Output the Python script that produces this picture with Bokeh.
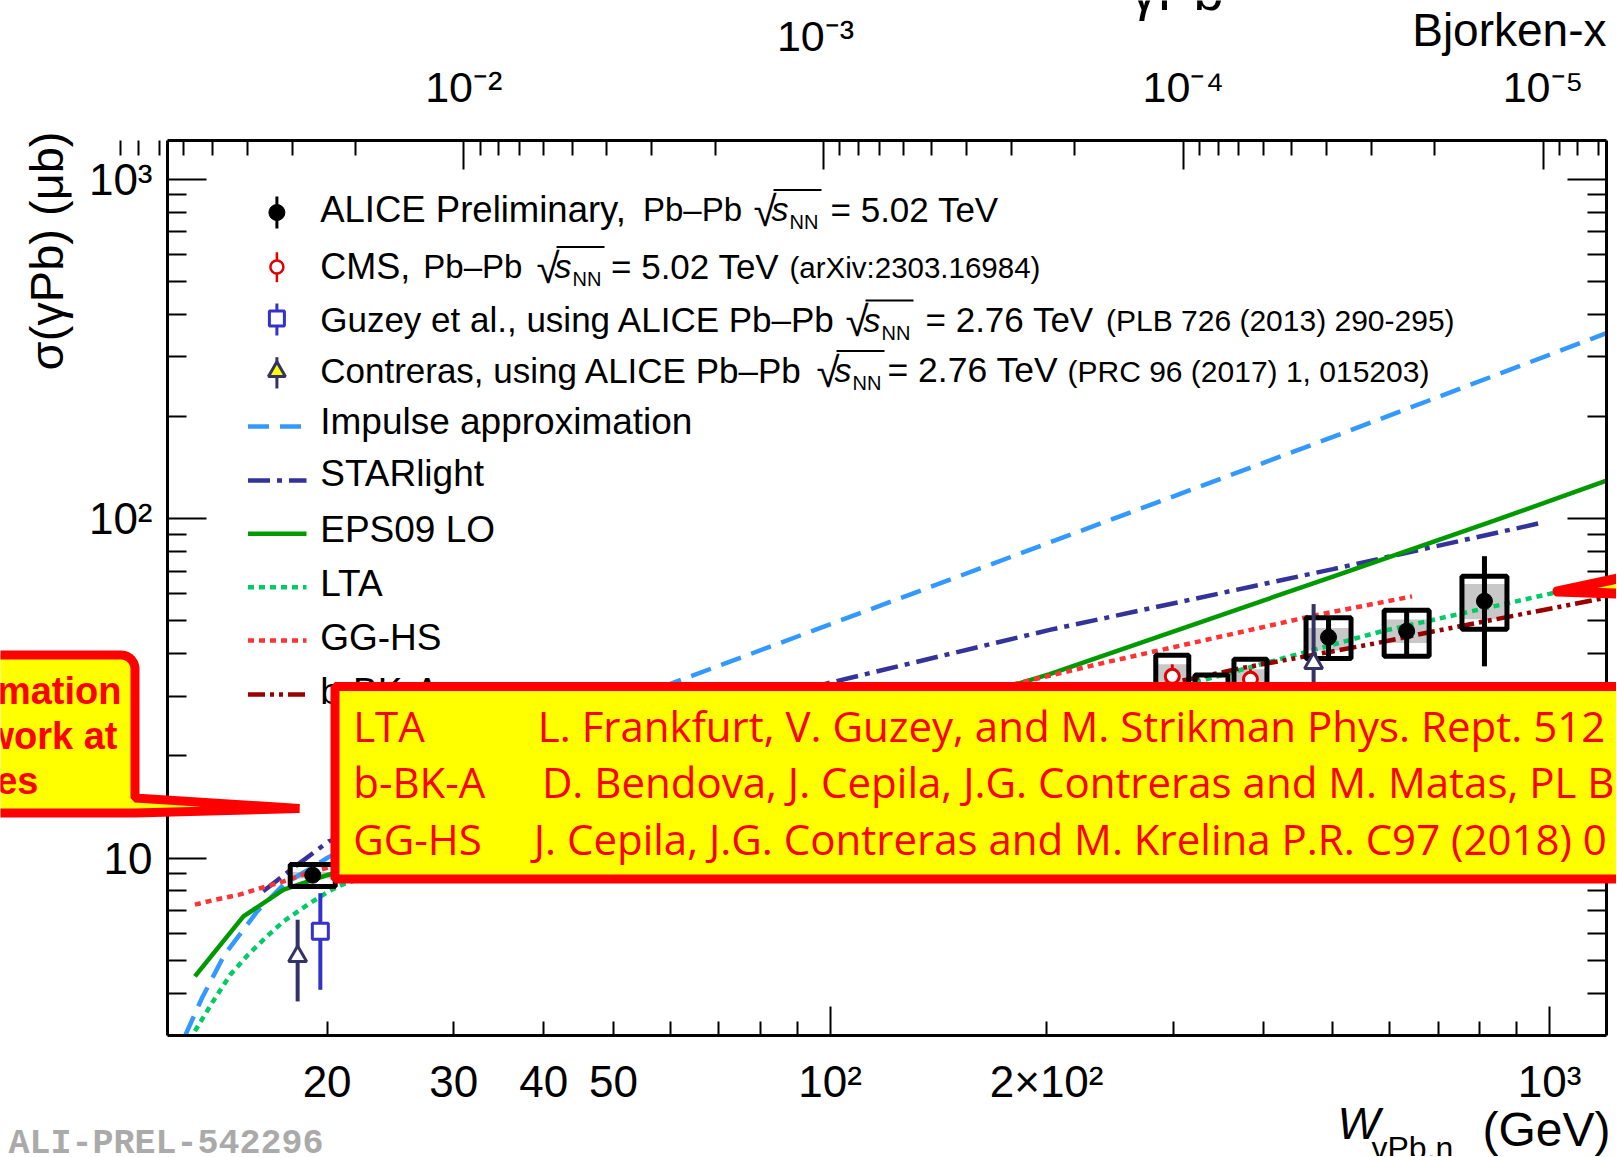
import json
import math
from bokeh.plotting import figure
from bokeh.models import (LogAxis, FixedTicker, CustomJSTickFormatter, Range1d,
                          LogScale, Label, PolyAnnotation, ColumnDataSource)
from bokeh.core.properties import value
from bokeh.embed import file_html
from bokeh.resources import INLINE

# ------------------------------------------------------------------ data
W_MIN, W_MAX = 12.0, 1200.0
SIG_MIN, SIG_MAX = 3.0, 1300.0
M_JPSI = 3.0969  # GeV ; Bjorken-x = (M/W)^2

x_major_ticks = [100, 1000]
x_minor_ticks = [20, 30, 40, 50, 60, 70, 80, 90, 200, 300, 400, 500, 600, 700, 800, 900]
x_label_ticks = [20, 30, 40, 50, 100, 200, 1000]
x_labels = {"20": "20", "30": "30", "40": "40", "50": "50",
            "100": "10²", "200": "2×10²", "1000": "10³"}

y_major_ticks = [10, 100, 1000]
y_minor_ticks = [4, 5, 6, 7, 8, 9, 20, 30, 40, 50, 60, 70, 80, 90,
                 200, 300, 400, 500, 600, 700, 800, 900]
y_labels = {"10": "10", "100": "10²", "1000": "10³"}

bj_major_ticks = [1e-2, 1e-3, 1e-4, 1e-5]
bj_minor_ticks = [k * 10.0 ** e for e in range(-6, -1) for k in range(2, 10)]
bj_labels = {"-2": "10⁻²", "-4": "10⁻⁴", "-5": "10⁻⁵"}
bj_stagger_label = "10⁻³"

# ALICE preliminary (Pb-Pb 5.02 TeV)
alice_W = [19.1, 493, 633, 812]
alice_sig = [8.9, 44.7, 46.6, 57.1]
alice_stat_lo = [8.5, 38.7, 39.3, 36.7]
alice_stat_hi = [9.3, 51.0, 53.7, 77.5]
alice_syst_lo = [8.24, 38.7, 39.3, 47.2]
alice_syst_hi = [9.57, 51.0, 53.7, 67.6]
alice_unc_lo = [8.7, 40.9, 43.0, 50.5]
alice_unc_hi = [9.1, 47.6, 50.4, 64.2]

# CMS
cms_W = [299, 339, 384]
cms_sig = [34.3, 30.1, 33.6]
cms_syst_lo = [29.7, 26.2, 29.3]
cms_syst_hi = [39.6, 34.6, 38.5]
cms_unc_lo = [31.6, 27.8, 31.4]
cms_unc_hi = [37.2, 32.6, 36.0]

# Guzey et al. (ALICE 2.76 TeV)
guzey_W = [19.57]
guzey_sig = [6.08]
guzey_lo = [4.09]
guzey_hi = [7.88]

# Contreras (ALICE 2.76 TeV)
contr_W = [18.2, 470]
contr_sig = [5.13, 37.5]
contr_lo = [3.78, 24.0]
contr_hi = [6.58, 56.0]

# model curves
ia_W = [12.7, 13.4, 14.4, 16.0, 17.4, 20, 30, 40, 60, 100, 200, 500, 1200]
ia_sig = [3.0, 3.87, 5.19, 6.97, 8.35, 10.0, 16.0, 21.5, 32.6, 48.8, 84.4, 174, 352]

star_W = [16.3, 18, 20.1, 30, 50, 98.5, 202, 500, 977]
star_sig = [7.98, 9.4, 11.2, 14.6, 20.6, 32.6, 47.0, 71.0, 97.3]

eps_W = [13.1, 15.3, 17.4, 20.1, 30, 50, 100, 202, 500, 838, 1200]
eps_sig = [4.48, 6.73, 8.07, 8.93, 11.1, 14.7, 22.3, 34.8, 67.5, 98.6, 129.3]

lta_W = [13.1, 13.88, 14.67, 15.53, 16.5, 17.4, 18.8, 20.1, 21.0, 30, 50, 100, 200, 323, 583, 1000, 1200]
lta_sig = [3.09, 3.78, 4.53, 5.19, 5.88, 6.51, 7.29, 7.98, 8.35, 10.9, 14.6, 20.0, 26.5, 33.0, 46.5, 60.0, 66.0]

gghs_W = [13.1, 14.0, 15.1, 16.2, 17.4, 18.8, 30, 50, 100, 181, 237.6, 475, 644]
gghs_sig = [7.29, 7.54, 7.80, 8.16, 8.54, 9.03, 11.8, 15.8, 23.4, 32.6, 37.4, 52.0, 59.0]

bbka_W = [25, 50, 100, 200, 324, 371.5, 450, 576, 689, 1200]
bbka_sig = [12.0, 16.0, 21.1, 27.9, 34.0, 36.2, 39.0, 43.0, 46.5, 58.5]

legend_texts = ["ALICE Preliminary,", "CMS,", "Guzey et al., using ALICE Pb–Pb",
                "Contreras, using ALICE Pb–Pb", "Impulse approximation", "STARlight",
                "EPS09 LO", "LTA", "GG-HS", "b-BK-A"]
refs_col1 = ["LTA", "b-BK-A", "GG-HS"]
refs_col2 = ["L. Frankfurt, V. Guzey, and M. Strikman Phys. Rept. 512 (",
             "D. Bendova, J. Cepila, J.G. Contreras and M. Matas, PL B",
             "J. Cepila, J.G. Contreras and M. Krelina P.R. C97 (2018) 0"]
callout_lines = ["mation", "work at", "es"]

# ------------------------------------------------------------------ layout helpers
FONT = "Liberation Sans"
CW, CH = 1616, 1156                          # canvas
FL, FT, FW, FH = 167.0, 140.0, 1439.0, 895.0  # ROOT frame box in canvas pixels


def wx(px):
    return W_MIN * (W_MAX / W_MIN) ** ((px - FL) / FW)


def sy(py):
    return SIG_MAX * (SIG_MIN / SIG_MAX) ** ((py - FT) / FH)


p = figure(x_axis_type="log", y_axis_type="log",
           x_range=Range1d(wx(0), wx(CW)), y_range=Range1d(sy(CH), sy(0)),
           frame_width=CW, frame_height=CH, min_border=0,
           x_axis_location=None, y_axis_location=None,
           output_backend="svg", toolbar_location=None)
p.xgrid.visible = False
p.ygrid.visible = False
p.outline_line_color = None
p.background_fill_color = "white"
p.border_fill_color = "white"


def fmt_map(m):
    return CustomJSTickFormatter(code="const m = %s; const v = m[String(tick)]; return v === undefined ? '' : v;"
                                 % json.dumps(m, ensure_ascii=False))


def fmt_exp(m):
    return CustomJSTickFormatter(code="const m = %s; const e = String(Math.round(Math.log10(tick))); const v = m[e]; return v === undefined ? '' : v;"
                                 % json.dumps(m, ensure_ascii=False))


def style_axis(ax, tin, tmin, font_size, standoff, line=True):
    ax.axis_line_width = 3
    ax.axis_line_color = "black" if line else None
    ax.major_tick_line_width = 2
    ax.minor_tick_line_width = 2
    ax.major_tick_in = tin
    ax.major_tick_out = 0
    ax.minor_tick_in = tmin
    ax.minor_tick_out = 0
    if tin == 0:
        ax.major_tick_line_color = None
    ax.major_label_text_font = FONT
    ax.major_label_text_font_size = font_size
    ax.major_label_standoff = standoff
    ax.major_label_text_color = "black"


# bottom: long/short ticks + labels
xa = LogAxis(fixed_location=SIG_MIN, bounds=(W_MIN, W_MAX),
             ticker=FixedTicker(ticks=x_major_ticks, minor_ticks=x_minor_ticks), formatter=fmt_map({}))
style_axis(xa, 29, 14, "0px", 0)
p.add_layout(xa, "below")
xl = LogAxis(fixed_location=SIG_MIN, bounds=(W_MIN, W_MAX),
             ticker=FixedTicker(ticks=x_label_ticks, minor_ticks=[]), formatter=fmt_map(x_labels))
style_axis(xl, 0, 0, "44px", 21, line=False)
p.add_layout(xl, "below")

# left / right
ya = LogAxis(fixed_location=W_MIN, bounds=(SIG_MIN, SIG_MAX),
             ticker=FixedTicker(ticks=y_major_ticks, minor_ticks=y_minor_ticks), formatter=fmt_map(y_labels))
style_axis(ya, 39, 19, "44px", 15)
p.add_layout(ya, "left")
ra = LogAxis(fixed_location=W_MAX, bounds=(SIG_MIN, SIG_MAX),
             ticker=FixedTicker(ticks=y_major_ticks, minor_ticks=y_minor_ticks), formatter=fmt_map({}))
style_axis(ra, 39, 19, "0px", 0)
p.add_layout(ra, "right")

# top: Bjorken-x
M2 = M_JPSI ** 2
p.extra_x_ranges = {"bj": Range1d(start=M2 / wx(0) ** 2, end=M2 / wx(CW) ** 2)}
p.extra_x_scales = {"bj": LogScale()}
BJ_BOUNDS = (M2 / W_MAX ** 2, M2 / W_MIN ** 2)
ta = LogAxis(x_range_name="bj", fixed_location=SIG_MAX, bounds=BJ_BOUNDS,
             ticker=FixedTicker(ticks=bj_major_ticks, minor_ticks=bj_minor_ticks), formatter=fmt_exp(bj_labels))
style_axis(ta, 29, 15, "43px", 30)
p.add_layout(ta, "above")
# staggered label of the 10^-3 decade, drawn by a second (tick-less) axis a little left of its tick
ta2 = LogAxis(x_range_name="bj", fixed_location=SIG_MAX, bounds=BJ_BOUNDS,
              ticker=FixedTicker(ticks=[M2 / wx(815) ** 2], minor_ticks=[]),
              formatter=CustomJSTickFormatter(code="return %s;" % json.dumps(bj_stagger_label, ensure_ascii=False)))
style_axis(ta2, 0, 0, "43px", 81, line=False)
p.add_layout(ta2, "above")

# ------------------------------------------------------------------ data glyphs
FA = 10 ** (22.5 / 719.5)   # ALICE box half-width (log)
FC = 10 ** (16.5 / 719.5)   # CMS box half-width (log)

p.quad(left=[w / FA for w in alice_W], right=[w * FA for w in alice_W],
       bottom=alice_unc_lo, top=alice_unc_hi, fill_color="#c8c8c8", line_color=None)
p.quad(left=[w / FC for w in cms_W], right=[w * FC for w in cms_W],
       bottom=cms_unc_lo, top=cms_unc_hi, fill_color="#c8c8c8", line_color=None)

LW = 4.5
p.line(ia_W, ia_sig, line_color="#3399FF", line_width=LW, line_dash="21 11")
p.line(star_W, star_sig, line_color="#333399", line_width=LW, line_dash="22 7 5 7")
p.line(eps_W, eps_sig, line_color="#009900", line_width=LW)
p.line(lta_W, lta_sig, line_color="#00CC66", line_width=LW, line_dash="6 5")
p.line(gghs_W, gghs_sig, line_color="#FF3333", line_width=LW, line_dash="6 5")
p.line(bbka_W, bbka_sig, line_color="#990000", line_width=LW, line_dash="17 5 4 5 4 5")

p.quad(left=[w / FA for w in alice_W], right=[w * FA for w in alice_W],
       bottom=alice_syst_lo, top=alice_syst_hi, fill_color=None, line_color="black", line_width=5)
p.quad(left=[w / FC for w in cms_W], right=[w * FC for w in cms_W],
       bottom=cms_syst_lo, top=cms_syst_hi, fill_color=None, line_color="black", line_width=5)

p.segment(alice_W, alice_stat_lo, alice_W, alice_stat_hi, line_color="black", line_width=5)
p.scatter(alice_W, alice_sig, marker="circle", size=16, fill_color="black", line_color="black")
p.segment(cms_W, cms_unc_lo, cms_W, cms_unc_hi, line_color="#E00000", line_width=3)
p.scatter(cms_W, cms_sig, marker="circle", size=14, fill_color="white", line_color="#E00000", line_width=3)
p.segment(guzey_W, guzey_lo, guzey_W, guzey_hi, line_color="#3333CC", line_width=4)
p.scatter(guzey_W, guzey_sig, marker="square", size=16, fill_color="white", line_color="#3333CC", line_width=3)
p.segment(contr_W, contr_lo, contr_W, contr_hi, line_color="#333366", line_width=4)
p.scatter(contr_W, contr_sig, marker="triangle", size=18, fill_color="white", line_color="#333366", line_width=3)

# ------------------------------------------------------------------ legend
LX0, LX1, MX = 247.5, 306.0, 276.4
for ypx, col, dash in [(426, "#3399FF", "21 11"), (480, "#333399", "22 7 5 7"),
                       (533.3, "#009900", "solid"), (586.7, "#00CC66", "6 5"),
                       (640, "#FF3333", "6 5"), (694, "#990000", "17 5 4 5 4 5")]:
    p.line([wx(LX0), wx(LX1)], [sy(ypx), sy(ypx)], line_color=col, line_width=LW, line_dash=dash)

p.segment([wx(MX)], [sy(196)], [wx(MX)], [sy(228)], line_color="black", line_width=3)
p.scatter([wx(MX)], [sy(212)], marker="circle", size=16, fill_color="black", line_color="black")
p.segment([wx(MX)], [sy(251.7)], [wx(MX)], [sy(281.7)], line_color="#E00000", line_width=2.5)
p.scatter([wx(MX)], [sy(266.5)], marker="circle", size=13, fill_color="white", line_color="#E00000", line_width=2.5)
p.segment([wx(MX)], [sy(303)], [wx(MX)], [sy(335)], line_color="#3333CC", line_width=3)
p.scatter([wx(MX)], [sy(318)], marker="square", size=15, fill_color="white", line_color="#3333CC", line_width=3)
p.segment([wx(MX)], [sy(356.7)], [wx(MX)], [sy(388)], line_color="#333366", line_width=3)
p.scatter([wx(MX)], [sy(371)], marker="triangle", size=17, fill_color="#FFFF00", line_color="#333366", line_width=3)

TX = 319.7
rows_y = [208.5, 265.5, 319, 369.5, 421, 472.5, 529, 583, 636.7, 690.5]
normal = [
    (TX, rows_y[0], legend_texts[0], 36.5), (642.5, rows_y[0], "Pb–Pb", 33), (830, rows_y[0], "= 5.02 TeV", 35),
    (TX, rows_y[1], legend_texts[1], 36), (422.8, rows_y[1], "Pb–Pb", 33), (610.5, rows_y[1], "= 5.02 TeV", 35),
    (789, rows_y[1] + 1, "(arXiv:2303.16984)", 29.5),
    (TX, rows_y[2], legend_texts[2], 35), (925, rows_y[2], "= 2.76 TeV", 35),
    (1105.5, rows_y[2] + 1, "(PLB 726 (2013) 290-295)", 30),
    (TX, rows_y[3], legend_texts[3], 35), (887, rows_y[3], "= 2.76 TeV", 35.5),
    (1067, rows_y[3] + 1, "(PRC 96 (2017) 1, 015203)", 30),
]
for i in range(4, 10):
    normal.append((TX, rows_y[i], legend_texts[i], 37))

sqrt_pos = [(753, rows_y[0]), (536, rows_y[1]), (845, rows_y[2]), (816, rows_y[3])]
italic, subs = [], []
over_x0, over_x1, over_y = [], [], []
for sx, ry in sqrt_pos:
    normal.append((sx, ry + 2, "√", 42))
    italic.append((sx + 18, ry, "s", 34))
    subs.append((sx + 36, ry + 13, "NN", 20))
    over_x0.append(wx(sx + 20))
    over_x1.append(wx(sx + 68))
    over_y.append(sy(ry - 19))


def add_texts(items, style="normal"):
    src = ColumnDataSource(dict(x=[wx(a[0]) for a in items], y=[sy(a[1]) for a in items],
                                text=[a[2] for a in items], size=["%gpx" % a[3] for a in items]))
    p.text(x="x", y="y", text="text", source=src, text_font=value(FONT), text_font_size="size",
           text_font_style=style, text_color="black", text_baseline="middle", text_align="left")


add_texts(normal)
add_texts(italic, "italic")
add_texts(subs)
p.segment(over_x0, over_y, over_x1, over_y, line_color="black", line_width=2)

# ------------------------------------------------------------------ callouts
bx = [334.5, 1650, 1650, 334.5]
by = [686, 686, 878.5, 878.5]
p.add_layout(PolyAnnotation(xs=[wx(v) for v in bx], ys=[sy(v) for v in by],
                            fill_color="#FFFF00", fill_alpha=1, line_color="#FF0000",
                            line_alpha=1, line_width=9))
for txt, ypx in zip(refs_col1, [725, 781, 838]):
    p.add_layout(Label(x=wx(352.7), y=sy(ypx), text=txt, text_font="Open Sans", text_font_size="42px",
                       text_color="#FF0000", text_baseline="middle", text_align="left"))
for txt, xpx, ypx in zip(refs_col2, [537.3, 541.4, 533.2], [725, 781, 838]):
    p.add_layout(Label(x=wx(xpx), y=sy(ypx), text=txt, text_font="Open Sans", text_font_size="42px",
                       text_color="#FF0000", text_baseline="middle", text_align="left"))

cx, cy = [-60], [654.5]
for k in range(10):
    th = math.pi / 2 - k * (math.pi / 2) / 9
    cx.append(120.5 + 14 * math.cos(th))
    cy.append(668.5 - 14 * math.sin(th))
cx += [134.5, 299, 134.5, -60]
cy += [797.5, 808, 812.5, 812.5]
p.add_layout(PolyAnnotation(xs=[wx(v) for v in cx], ys=[sy(v) for v in cy],
                            fill_color="#FFFF00", fill_alpha=1, line_color="#FF0000",
                            line_alpha=1, line_width=9))
for txt, xe, yb in zip(callout_lines, [121, 117, 38], [690, 735, 780]):
    p.add_layout(Label(x=wx(xe), y=sy(yb), text=txt, text_font=FONT, text_font_size="38px",
                       text_font_style="bold", text_color="#FF0000", text_baseline="alphabetic",
                       text_align="right"))

wxs = [1557, 1625, 1625]
wys = [591, 576.3, 593.2]
p.add_layout(PolyAnnotation(xs=[wx(v) for v in wxs], ys=[sy(v) for v in wys],
                            fill_color="#FFFF00", fill_alpha=1, line_color="#FF0000",
                            line_alpha=1, line_width=10, line_join="round"))

# ------------------------------------------------------------------ titles
def title_label(xpx, ypx, text, size, **kw):
    opts = dict(text_font=FONT, text_font_size=size, text_color="black",
                text_align="left", text_baseline="middle")
    opts.update(kw)
    p.add_layout(Label(x=wx(xpx), y=sy(ypx), text=text, **opts))


title_label(46, 131, "σ(γPb) (μb)", "47px", angle=math.pi / 2, text_align="right")
title_label(1337, 1123, "W", "45px", text_font_style="italic")
title_label(1371, 1147, "γPb,n", "32px")
title_label(1482, 1129, "(GeV)", "48px")
title_label(1606, 29, "Bjorken-x", "46px", text_align="right")
title_label(1130, -10, "γPb", "54px", text_baseline="alphabetic")
title_label(8, 1143, "ALI-PREL-542296", "35px", text_font="Liberation Mono", text_font_style="bold",
            text_color="#aaaaaa", text_baseline="hanging")

open("out.html", "w", encoding="utf-8").write(file_html(p, INLINE))
